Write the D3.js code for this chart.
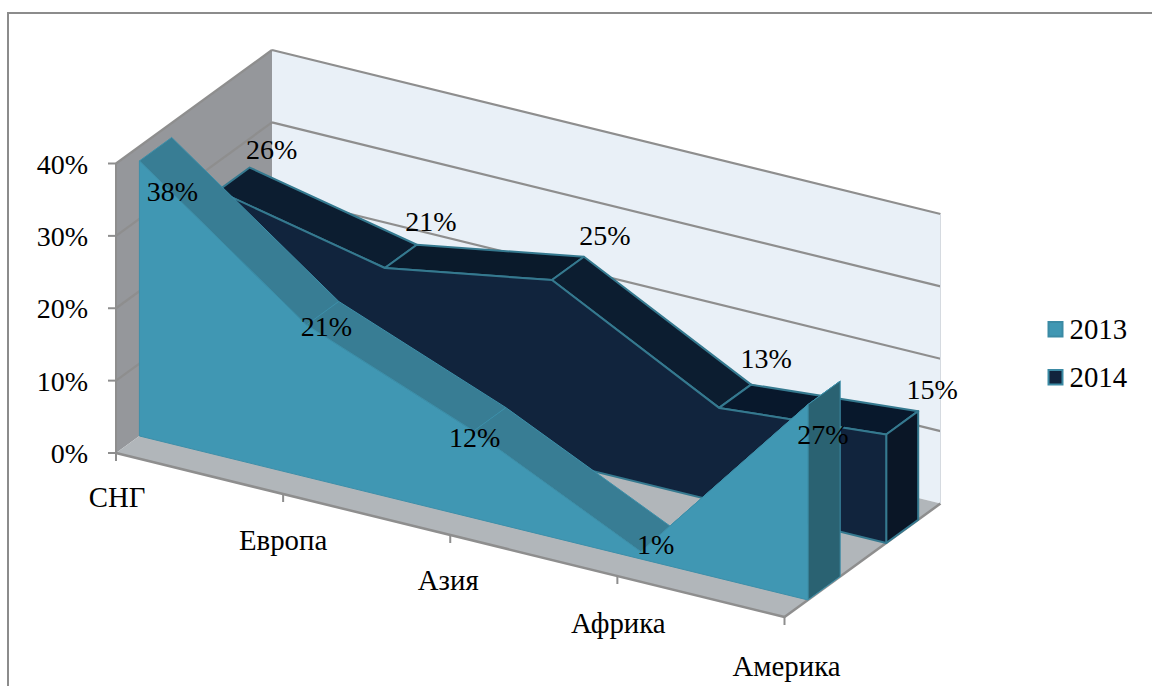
<!DOCTYPE html>
<html>
<head>
<meta charset="utf-8">
<script src="https://cdn.jsdelivr.net/npm/d3@7/dist/d3.min.js"></script>
<style>
html,body{margin:0;padding:0;background:#fff;overflow:hidden}
text{font-family:"Liberation Serif","Times New Roman",serif;font-size:28px;fill:#000}
text.wide{font-size:28.8px}
</style>
</head>
<body>
<script>
const categories = ["СНГ", "Европа", "Азия", "Африка", "Америка"];
const seriesNames = ["2013", "2014"];
const values2013 = [38, 21, 12, 1, 27];
const values2014 = [26, 21, 25, 13, 15];
const valueTicks = [0, 10, 20, 30, 40];

const W = 1152, H = 686;
const svg = d3.select("body").append("svg").attr("width", W).attr("height", H).style("display", "block");

// oblique projection built from three scales
const along = d3.scalePoint().domain(categories).range([0, 1]);
const rise = d3.scaleLinear().domain([0, 40]).range([0, 289.5]);
const origin = [116, 453], xVec = [668.5, 164], zVec = [156, -113.5];
const project = (c, d, v) => {
  const t = along(c);
  return [origin[0] + t * xVec[0] + d * zVec[0],
          origin[1] + t * xVec[1] + d * zVec[1] - rise(v)];
};
const poly = d3.line();
const face = (pts, fill, stroke, sw) => svg.append("path")
  .attr("d", poly(pts) + "Z").attr("fill", fill)
  .attr("stroke", stroke || "none").attr("stroke-width", sw || 0).attr("stroke-linejoin", "round");
const seg = (a, b, color, w) => svg.append("line")
  .attr("x1", a[0]).attr("y1", a[1]).attr("x2", b[0]).attr("y2", b[1])
  .attr("stroke", color).attr("stroke-width", w);

const first = categories[0], last = categories[categories.length - 1];
const grid = "#8e8e8e";

// outer frame (top and left edges are visible)
svg.append("rect").attr("x", 8).attr("y", 13).attr("width", W + 20).attr("height", H + 20)
  .attr("fill", "#fff").attr("stroke", "#8c8c8c").attr("stroke-width", 2);

// walls and floor
face([project(first, 0, 40), project(first, 1, 40), project(first, 1, 0), project(first, 0, 0)], "#95979b");
face([project(first, 1, 40), project(last, 1, 40), project(last, 1, 0), project(first, 1, 0)], "#e9f0f7");
face([project(first, 0, 0), project(first, 1, 0), project(last, 1, 0), project(last, 0, 0)], "#b1b6ba");

// gridlines, ticks, value labels
valueTicks.forEach(v => {
  if (v > 0) {
    seg(project(first, 0, v), project(first, 1, v), grid, 2.2);
    seg(project(first, 1, v), project(last, 1, v), grid, 2.2);
  }
  const p = project(first, 0, v);
  seg([p[0] - 8, p[1]], p, grid, 2);
  svg.append("text").attr("x", 88).attr("y", p[1] + 10).attr("text-anchor", "end").text(v + "%");
});
seg(project(first, 0, 0), project(first, 0, 40), grid, 2);
seg(project(first, 0, 0), project(last, 0, 0), grid, 2.5);
seg(project(last, 0, 0), project(last, 1, 0), grid, 2.5);
seg(project(last, 1, 0), project(last, 1, 40), "#d5dae0", 1);

// category ticks and labels
const catNudge = [[1, 0], [0, 2], [-2, 1], [1, 3], [2, 5]];
categories.forEach((c, i) => {
  const p = project(c, 0, 0);
  seg(p, [p[0], p[1] + 8], grid, 2);
  svg.append("text").attr("class", "wide").attr("x", p[0] + catNudge[i][0]).attr("y", p[1] + 54 + catNudge[i][1])
    .attr("text-anchor", "middle").text(c);
});

// 3D area series
function drawArea(values, d0, d1, colors) {
  categories.slice(0, -1).forEach((c, i) => {
    const n = categories[i + 1];
    face([project(c, d0, values[i]), project(n, d0, values[i + 1]),
          project(n, d1, values[i + 1]), project(c, d1, values[i])],
         colors.top[i % colors.top.length], colors.stroke, colors.sw);
  });
  const e = values[values.length - 1];
  face([project(last, d0, e), project(last, d1, e), project(last, d1, 0), project(last, d0, 0)],
       colors.end, colors.stroke, colors.sw);
  const front = categories.map((c, i) => project(c, d0, values[i]));
  face(front.concat([project(last, d0, 0), project(first, d0, 0)]), colors.front, colors.stroke, colors.sw);
}

const style2014 = {front: "#11243d", top: ["#0c1d30", "#0a1a2b", "#0c1d30", "#08182c"], end: "#0a1626", stroke: "#35798f", sw: 2};
const style2013 = {front: "#4097b3", top: ["#387d94"], end: "#2a6272", stroke: "#3d8fa9", sw: 1};
drawArea(values2014, 0.652, 0.857, style2014);
drawArea(values2013, 0.15, 0.357, style2013);

// data labels: nudged from each point as in the reference
const nudge2013 = [[33, 40], [20, 11], [1, 16], [15, 2], [15, 39]];
const nudge2014 = [[22, -9], [14, -14], [21, -12], [15, -17], [14, -12]];
values2013.forEach((v, i) => {
  const p = project(categories[i], 0.15, v);
  svg.append("text").attr("x", p[0] + nudge2013[i][0]).attr("y", p[1] + nudge2013[i][1])
    .attr("text-anchor", "middle").text(v + "%");
});
values2014.forEach((v, i) => {
  const p = project(categories[i], 0.857, v);
  svg.append("text").attr("x", p[0] + nudge2014[i][0]).attr("y", p[1] + nudge2014[i][1])
    .attr("text-anchor", "middle").text(v + "%");
});

// legend
const legendY = d3.scalePoint().domain(seriesNames).range([322, 370]);
const legendFill = {"2013": [style2013.front, "#3b8aa4"], "2014": [style2014.front, "#3b8aa4"]};
seriesNames.forEach(s => {
  svg.append("rect").attr("x", 1048.5).attr("y", legendY(s)).attr("width", 14).attr("height", 14.5)
    .attr("fill", legendFill[s][0]).attr("stroke", legendFill[s][1]).attr("stroke-width", 2);
  svg.append("text").attr("class", "wide").attr("x", 1069.5).attr("y", legendY(s) + 17).text(s);
});
</script>
</body>
</html>
